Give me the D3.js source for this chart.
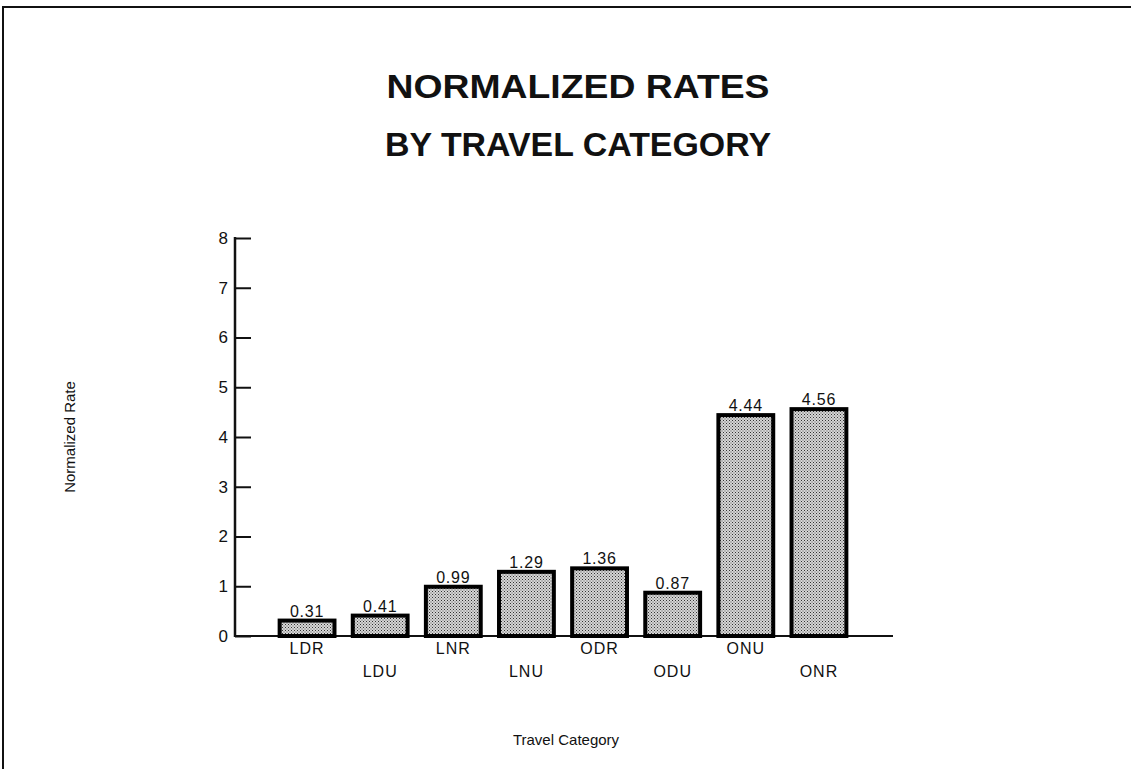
<!DOCTYPE html>
<html>
<head>
<meta charset="utf-8">
<script src="https://cdn.jsdelivr.net/npm/d3@7"></script>
<style>
  html, body { margin: 0; padding: 0; background: #fff; }
  svg { display: block; font-family: "Liberation Sans", Arial, Helvetica, sans-serif; }
</style>
</head>
<body>
<svg id="chart" width="1131" height="769"></svg>
<script>
// Travel categories and their normalized rates
const categories = ["LDR", "LDU", "LNR", "LNU", "ODR", "ODU", "ONU", "ONR"];
const rates = [0.31, 0.41, 0.99, 1.29, 1.36, 0.87, 4.44, 4.56];
const yTicks = [0, 1, 2, 3, 4, 5, 6, 7, 8];
const titleLines = ["NORMALIZED RATES", "BY TRAVEL CATEGORY"];
const titleWidths = [383, 386];

const data = categories.map((c, i) => ({ cat: c, value: rates[i] }));

const svg = d3.select("#chart");

// stippled fill for the bars
const defs = svg.append("defs");
const pat = defs.append("pattern")
  .attr("id", "stipple")
  .attr("patternUnits", "userSpaceOnUse")
  .attr("width", 3).attr("height", 3);
pat.append("rect").attr("width", 3).attr("height", 3).attr("fill", "#d6d6d6");
pat.append("rect").attr("x", 0).attr("y", 0).attr("width", 1).attr("height", 1).attr("fill", "#333");
pat.append("rect").attr("x", 1.5).attr("y", 1.5).attr("width", 1).attr("height", 1).attr("fill", "#555");

// page frame (top and left edges)
svg.append("path")
  .attr("d", "M3,769 L3,7 L1131,7")
  .attr("fill", "none").attr("stroke", "#111").attr("stroke-width", 2);

// titles
svg.selectAll(".title")
  .data(titleLines)
  .join("text")
  .attr("class", "title")
  .attr("x", 578)
  .attr("y", (d, i) => 98 + i * 58)
  .attr("text-anchor", "middle")
  .attr("font-size", 34)
  .attr("font-weight", "bold")
  .attr("textLength", (d, i) => titleWidths[i])
  .attr("lengthAdjust", "spacingAndGlyphs")
  .attr("fill", "#111")
  .text(d => d);

const axisX0 = 235, axisX1 = 893;

const x = d3.scaleBand()
  .domain(categories)
  .range([270.5, 855.5])
  .paddingInner(0.25)
  .paddingOuter(0.125);

const y = d3.scaleLinear()
  .domain([0, 8])
  .range([636, 238]);

// y axis with inward ticks
const yAxis = d3.axisLeft(y)
  .tickValues(yTicks)
  .tickSize(-16)
  .tickPadding(7)
  .tickFormat(d3.format("d"));

const gy = svg.append("g")
  .attr("transform", `translate(${axisX0},0)`)
  .call(yAxis)
  .attr("font-size", 17)
  .attr("font-family", "Liberation Sans, Arial, sans-serif");
gy.select(".domain").remove();
gy.selectAll(".tick line").attr("stroke", "#111").attr("stroke-width", 2);
gy.selectAll(".tick text")
  .style("font-size", "17px")
  .attr("fill", "#111");

svg.append("line")
  .attr("x1", axisX0).attr("x2", axisX0)
  .attr("y1", y(8) - 1).attr("y2", y(0) + 1)
  .attr("stroke", "#111").attr("stroke-width", 2.5);

svg.append("line")
  .attr("x1", axisX0).attr("x2", axisX1)
  .attr("y1", y(0)).attr("y2", y(0))
  .attr("stroke", "#111").attr("stroke-width", 2);

// bars
svg.selectAll(".bar")
  .data(data)
  .join("rect")
  .attr("class", "bar")
  .attr("x", d => x(d.cat))
  .attr("y", d => y(d.value))
  .attr("width", x.bandwidth())
  .attr("height", d => y(0) - y(d.value))
  .attr("fill", "url(#stipple)")
  .attr("stroke", "#000")
  .attr("stroke-width", 4);

// value labels
svg.selectAll(".val")
  .data(data)
  .join("text")
  .attr("class", "val")
  .attr("x", d => x(d.cat) + x.bandwidth() / 2)
  .attr("y", d => y(d.value) - 4)
  .attr("text-anchor", "middle")
  .attr("font-size", 16)
  .attr("letter-spacing", 0.8)
  .attr("fill", "#111")
  .text(d => d3.format(".2f")(d.value));

// category labels, staggered on two rows
svg.selectAll(".cat")
  .data(data)
  .join("text")
  .attr("class", "cat")
  .attr("x", d => x(d.cat) + x.bandwidth() / 2)
  .attr("y", (d, i) => i % 2 === 0 ? 654 : 677)
  .attr("text-anchor", "middle")
  .attr("font-size", 16)
  .attr("letter-spacing", 1)
  .attr("fill", "#111")
  .text(d => d.cat);

// axis titles
svg.append("text")
  .attr("transform", "translate(75,437) rotate(-90)")
  .attr("text-anchor", "middle")
  .attr("font-size", 15)
  .attr("fill", "#111")
  .text("Normalized Rate");

svg.append("text")
  .attr("x", 566)
  .attr("y", 745)
  .attr("text-anchor", "middle")
  .attr("font-size", 15)
  .attr("fill", "#111")
  .text("Travel Category");
</script>
</body>
</html>
